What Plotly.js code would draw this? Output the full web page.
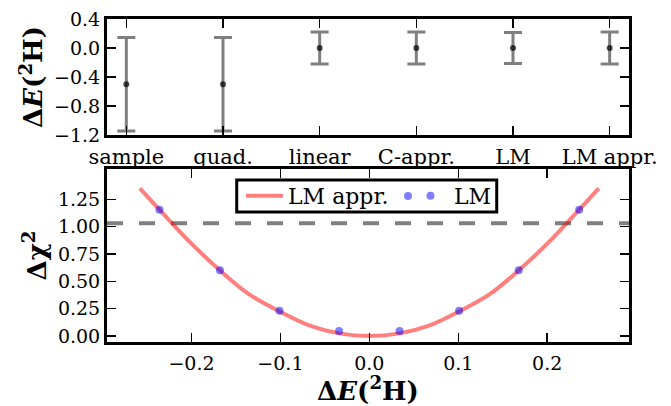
<!DOCTYPE html>
<html>
<head>
<meta charset="utf-8">
<script src="https://cdn.plot.ly/plotly-3.0.1.min.js"></script>
<style>html,body{margin:0;padding:0;background:#fff;}#chart{width:671px;height:406px;}</style>
</head>
<body>
<div id="chart"></div>
<script>
// Top panel: method comparison of ΔE(2H) with uncertainties
const methods = ["sample", "quad.", "linear", "C-appr.", "LM", "LM appr."];
const methodDeltaE = [-0.5, -0.5, 0.0, 0.0, 0.0, 0.0];
const methodErr = [0.645, 0.645, 0.22, 0.22, 0.215, 0.22];

// Bottom panel: LM approximation curve
const curveX = [-0.258, -0.236, -0.202, -0.168, -0.135, -0.101, -0.067, -0.034, 0.0, 0.034, 0.067, 0.101, 0.135, 0.168, 0.202, 0.236, 0.258];
const curveChi2 = [1.35, 1.155, 0.86, 0.60, 0.38, 0.225, 0.095, 0.024, 0.0, 0.024, 0.095, 0.225, 0.38, 0.60, 0.86, 1.155, 1.35];

// Bottom panel: LM points
const lmX = [-0.236, -0.168, -0.101, -0.034, 0.034, 0.101, 0.168, 0.236];
const lmChi2 = [1.155, 0.60, 0.23, 0.045, 0.045, 0.23, 0.60, 1.155];

// Threshold line
const threshold = 1.03;

const FONT = "DejaVu Serif, serif";
const numSize = 19;
const wordSize = 21;
const legendSize = 22;
const titleSize = 26;
const lmColor = "rgba(0,0,255,0.5)";

const traces = [
  {
    type: "scatter", mode: "markers",
    x: methods, y: methodDeltaE,
    xaxis: "x", yaxis: "y",
    marker: {color: "rgba(0,0,0,0.7)", size: 6},
    error_y: {type: "data", array: methodErr, visible: true, color: "rgba(0,0,0,0.5)", thickness: 3, width: 9},
    showlegend: false, hoverinfo: "skip"
  },
  {
    type: "scatter", mode: "lines",
    x: curveX, y: curveChi2,
    xaxis: "x2", yaxis: "y2",
    line: {color: "rgba(255,0,0,0.5)", width: 4, shape: "spline"},
    name: "LM appr."
  },
  {
    type: "scatter", mode: "markers",
    x: lmX, y: lmChi2,
    xaxis: "x2", yaxis: "y2",
    marker: {color: lmColor, size: 8},
    name: "LM"
  }
];

const axCommon = {
  showline: true, linecolor: "black", linewidth: 3, mirror: "allticks",
  ticks: "inside", ticklen: 9, tickwidth: 1.5, tickcolor: "black",
  showgrid: false, zeroline: false,
  tickfont: {family: FONT, size: numSize, color: "black"}
};

const layout = {
  width: 671, height: 406,
  margin: {l: 107, r: 42, t: 19, b: 64},
  paper_bgcolor: "white", plot_bgcolor: "white",
  font: {family: FONT, size: numSize, color: "black"},
  xaxis: Object.assign({}, axCommon, {
    domain: [0, 1], anchor: "y", type: "category", range: [-0.2, 5.2],
    tickfont: {family: FONT, size: wordSize, color: "black"}, ticklabelstandoff: 1
  }),
  yaxis: Object.assign({}, axCommon, {
    domain: [0.641, 1], anchor: "x", range: [-1.2, 0.4],
    tickvals: [-1.2, -0.8, -0.4, 0.0, 0.4], ticktext: ["−1.2", "−0.8", "−0.4", "0.0", "0.4"],
    title: {text: "<b>Δ<i>E</i>(<sup>2</sup>H)</b>", font: {family: FONT, size: titleSize}, standoff: 4}
  }),
  xaxis2: Object.assign({}, axCommon, {
    domain: [0, 1], anchor: "y2", range: [-0.295, 0.292],
    tickvals: [-0.2, -0.1, 0.0, 0.1, 0.2], ticktext: ["−0.2", "−0.1", "0.0", "0.1", "0.2"],
    ticklabelstandoff: 2,
    title: {text: "<b>Δ<i>E</i>(<sup>2</sup>H)</b>", font: {family: FONT, size: titleSize}, standoff: 9}
  }),
  yaxis2: Object.assign({}, axCommon, {
    domain: [0, 0.5356], anchor: "x2", range: [-0.055, 1.527],
    tickvals: [0, 0.25, 0.5, 0.75, 1.0, 1.25], ticktext: ["0.00", "0.25", "0.50", "0.75", "1.00", "1.25"],
    title: {text: "<b>Δχ<sup>2</sup></b>", font: {family: FONT, size: titleSize}, standoff: 4}
  }),
  shapes: [
    {type: "line", xref: "x2 domain", yref: "y2", x0: 0, x1: 1, y0: threshold, y1: threshold,
     line: {color: "rgba(0,0,0,0.5)", width: 4, dash: "16px,16px"}, layer: "below"},
    // legend frame
    {type: "rect", xref: "paper", yref: "paper", x0: 0.2485, x1: 0.7466, y0: 0.4025, y1: 0.5015,
     fillcolor: "white", line: {color: "black", width: 3}, layer: "above"},
    // second legend marker (matplotlib-style two-point legend handle)
    {type: "circle", xref: "paper", yref: "paper", xsizemode: "pixel", ysizemode: "pixel",
     xanchor: 0.5766, yanchor: 0.452, x0: -4, x1: 4, y0: -4, y1: 4,
     fillcolor: lmColor, line: {width: 0}, layer: "above"}
  ],
  legend: {
    orientation: "h", x: 0.2567, xanchor: "left", y: 0.517, yanchor: "top",
    borderwidth: 0, bgcolor: "rgba(255,255,255,0)", itemwidth: 37,
    entrywidth: 114, entrywidthmode: "pixels",
    font: {family: FONT, size: legendSize, color: "black"}
  },
  showlegend: true
};

Plotly.newPlot("chart", traces, layout, {displayModeBar: false, staticPlot: true});
</script>
</body>
</html>
